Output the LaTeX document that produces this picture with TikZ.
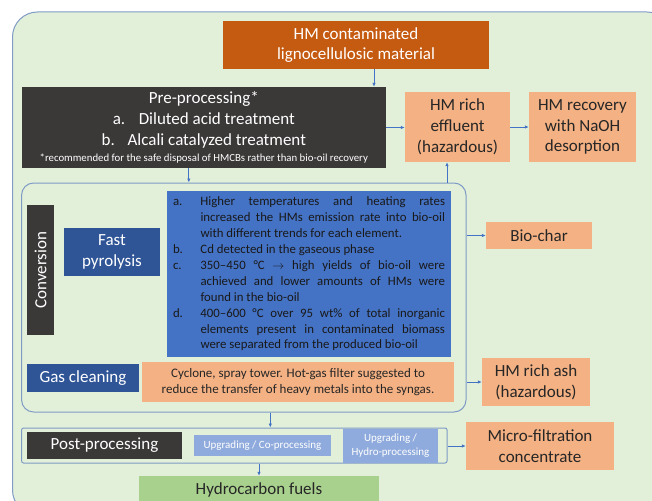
\documentclass[tikz,border=0pt]{standalone}
\usepackage{fontspec}
\setmainfont{Carlito}
\usetikzlibrary{arrows.meta,calc}
\definecolor{bggreen}{HTML}{E2F0D9}
\definecolor{frame}{HTML}{7F9BC6}
\definecolor{rust}{HTML}{C55A11}
\definecolor{charcoal}{HTML}{3B3838}
\definecolor{peach}{HTML}{F4B183}
\definecolor{navy}{HTML}{2F5597}
\definecolor{midblue}{HTML}{4472C4}
\definecolor{paleblue}{HTML}{8FAADC}
\definecolor{leaf}{HTML}{A9D18E}
\newcommand{\bigtxt}{\fontsize{17}{20.8}\selectfont}
\newcommand{\smalltxt}{\fontsize{13}{16.7}\selectfont}
\newcommand{\litem}[2]{\par\noindent\hangindent=27.5pt\hangafter=1%
  \makebox[27.5pt][l]{#1}#2\par}

\begin{document}
\begin{tikzpicture}[x=1pt,y=-1pt,
  box/.style={inner sep=0pt,align=center,font=\bigtxt},
  darkbox/.style={box,fill=charcoal,text=white},
  peachbox/.style={box,fill=peach,text=black!85},
  navybox/.style={box,fill=navy,text=white},
  paleboxes/.style={box,fill=paleblue,text=white,font=\fontsize{11}{14}\selectfont},
  arr/.style={midblue,line width=0.8pt,-{Latex[length=4pt,width=3.5pt]}}]
  \useasboundingbox (0,0) rectangle (652,500);
  \begin{scope}
    \clip (0,0) rectangle (652,500);
    \draw[frame,fill=bggreen,line width=1pt,rounded corners=25pt]
      (12.5,12) rectangle (672,515);
  \end{scope}

  % top row
  \node[box,fill=rust,text=white,minimum width=266,minimum height=48]
    (hm) at (356,45) {HM contaminated\\lignocellulosic material};
  \node[darkbox,minimum width=364.4,minimum height=81] (pre) at (203.8,127.5)
    {Pre-processing*\\
     \makebox[26pt][l]{a.}Diluted acid treatment\\
     \makebox[26pt][l]{b.}Alcali catalyzed treatment\\[-5pt]
     {\fontsize{10.8}{12}\selectfont *recommended for the safe disposal of HMCBs rather than bio-oil recovery}};
  \node[peachbox,minimum width=105,minimum height=70] (efl) at (457.5,127)
    {HM rich\\effluent\\(hazardous)};
  \node[peachbox,minimum width=107,minimum height=70] (rec) at (582.5,127)
    {HM recovery\\with NaOH\\desorption};

  % conversion block
  \node[draw=frame,line width=1pt,rounded corners=12pt,
        minimum width=444.4,minimum height=229] (conv) at (243.8,297.5) {};
  \node[darkbox,rotate=90,minimum width=130,minimum height=27]
    (convlbl) at (40.5,270) {Conversion};
  \node[navybox,minimum width=96,minimum height=48] (fp) at (112,252)
    {Fast\\pyrolysis};
  \node[box,fill=midblue,text=black!90,minimum width=284,minimum height=166]
    (fpnotes) at (309,274)
    {\parbox{272pt}{\fontsize{12.8}{15.9}\selectfont
      \tolerance=10000\hyphenpenalty=10000
      \litem{a.}{Higher temperatures and heating rates\linebreak
        increased the HMs emission rate into bio-oil\linebreak
        with different trends for each element.}
      \litem{b.}{Cd detected in the gaseous phase}
      \litem{c.}{350--450 °C $\rightarrow$ high yields of bio-oil were\linebreak
        achieved and lower amounts of HMs were\linebreak
        found in the bio-oil}
      \litem{d.}{400--600 °C over 95 wt\% of total inorganic\linebreak
        elements present in contaminated biomass\linebreak
        were separated from the produced bio-oil}}};
  \node[peachbox,minimum width=106,minimum height=27] (bio) at (539,235.5)
    {Bio-char};
  \node[navybox,minimum width=112,minimum height=28] (gc) at (83,378)
    {Gas cleaning};
  \node[peachbox,font=\smalltxt,minimum width=312,minimum height=40]
    (gcnote) at (298,382)
    {Cyclone, spray tower. Hot-gas filter suggested to\\
     reduce the transfer of heavy metals into the syngas.};
  \node[peachbox,minimum width=108,minimum height=48] (ash) at (536,382)
    {HM rich ash\\(hazardous)};

  % post-processing row
  \node[draw=frame,line width=1pt,rounded corners=2pt,
        minimum width=425.4,minimum height=35] (post) at (234.3,445.5) {};
  \node[darkbox,minimum width=155,minimum height=27] (pplbl) at (104.5,445.5)
    {Post-processing};
  \node[paleboxes,minimum width=137,minimum height=21] (upco) at (262.5,445.5)
    {Upgrading / Co-processing};
  \node[paleboxes,minimum width=95,minimum height=34] (uphy) at (390.5,446)
    {Upgrading /\\Hydro-processing};
  \node[peachbox,minimum width=148,minimum height=48] (micro) at (540,446)
    {Micro-filtration\\concentrate};
  \node[box,fill=leaf,text=black!85,minimum width=240,minimum height=28]
    (hydro) at (259,490) {Hydrocarbon fuels};

  % arrows
  \draw[arr] ([xshift=18pt]hm.south) -- ([xshift=18pt]hm.south |- pre.north);
  \draw[arr] (pre.east) -- (pre.east -| efl.west);
  \draw[arr] (efl.east) -- (efl.east -| rec.west);
  \draw[arr] ([xshift=-15pt]pre.south) -- ([xshift=-15pt]pre.south |- conv.north);
  \draw[arr] ([xshift=-10.5pt]efl.south |- conv.north) -- ([xshift=-10.5pt]efl.south);
  \draw[arr] (conv.east |- bio.west) -- (bio.west);
  \draw[arr] (conv.east |- ash.west) -- (ash.west);
  \draw[arr] ([xshift=36pt]post.north |- conv.south) -- ([xshift=36pt]post.north);
  \draw[arr] (post.east |- micro.west) -- (micro.west);
  \draw[arr] (hydro.north |- post.south) -- (hydro.north);
\end{tikzpicture}
\end{document}
